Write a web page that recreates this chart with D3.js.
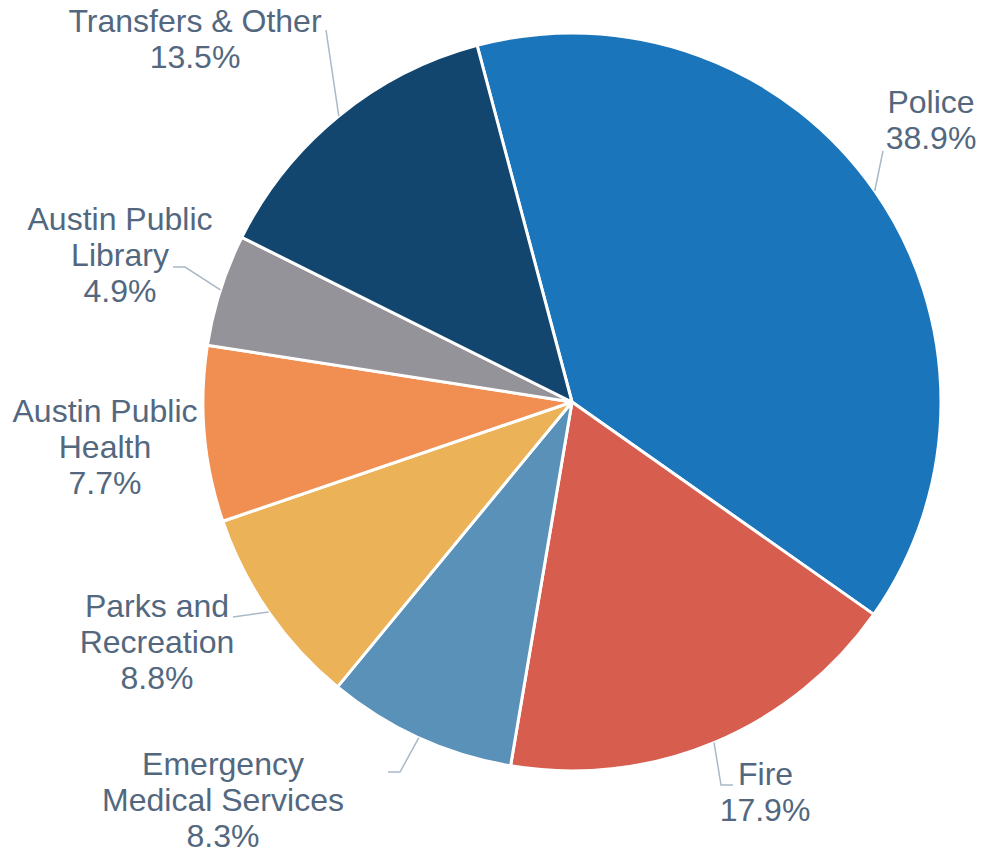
<!DOCTYPE html>
<html>
<head>
<meta charset="utf-8">
<script src="https://cdn.jsdelivr.net/npm/d3@7"></script>
<style>
  html, body { margin: 0; padding: 0; background: #fff; }
  svg { display: block; }
</style>
</head>
<body>
<svg id="chart" width="984" height="853"></svg>
<script>
// Budget shares (%), in drawing order, clockwise
const categories = ['Police', 'Fire', 'Emergency Medical Services', 'Parks and Recreation',
  'Austin Public Health', 'Austin Public Library', 'Transfers & Other'];
const shares = [38.9, 17.9, 8.3, 8.8, 7.7, 4.9, 13.5];
const labelLines = [
  ['Police'], ['Fire'], ['Emergency', 'Medical Services'], ['Parks and', 'Recreation'],
  ['Austin Public', 'Health'], ['Austin Public', 'Library'], ['Transfers & Other']
];

const COLORS = ['#1b75bb', '#d75d4e', '#5a91b8', '#ebb257', '#f18e51', '#939399', '#12466f'];
const TEXT_COLOR = '#53687e';
const LEADER_COLOR = '#a9b9c8';

// Label anchors (text center x, first baseline y) and leader start points
const LABEL_POS = [
  { x: 931, y: 113, leader: [[883, 151]] },
  { x: 765, y: 785, ax: 738, leader: [[733, 785], [721, 785]] },
  { x: 223, y: 775, leader: [[388, 772], [400, 772]] },
  { x: 157, y: 617, leader: [[233, 617]] },
  { x: 105, y: 422, leader: null },
  { x: 120, y: 230, leader: [[173, 267], [185, 267]] },
  { x: 195, y: 32, leader: [[326, 30]] },
];

const cx = 572, cy = 402, radius = 369;
const lineH = 36;

const svg = d3.select('#chart');
const g = svg.append('g').attr('transform', `translate(${cx},${cy})`);

const startA = -14.9 * Math.PI / 180;
const pie = d3.pie().sort(null).value(d => d).startAngle(startA).endAngle(startA + 2 * Math.PI);
const arcs = pie(shares);
const arc = d3.arc().innerRadius(0).outerRadius(radius);

g.selectAll('path.slice')
  .data(arcs)
  .join('path')
  .attr('class', 'slice')
  .attr('d', arc)
  .attr('fill', (d, i) => COLORS[i])
  .attr('stroke', '#fff')
  .attr('stroke-width', 3)
  .attr('stroke-linejoin', 'round');

// Leader lines: from label to outer edge at slice mid-angle
const line = d3.line();
arcs.forEach((a, i) => {
  const pos = LABEL_POS[i];
  if (!pos.leader) return;
  const mid = (a.startAngle + a.endAngle) / 2;
  const edge = [cx + radius * Math.sin(mid), cy - radius * Math.cos(mid)];
  svg.append('path')
    .attr('d', line([...pos.leader, edge]))
    .attr('fill', 'none')
    .attr('stroke', LEADER_COLOR)
    .attr('stroke-width', 1.5);
});

// Labels
arcs.forEach((a, i) => {
  const pos = LABEL_POS[i];
  const lines = [...labelLines[i], shares[i].toFixed(1) + '%'];
  const t = svg.append('text')
    .attr('font-family', "'Liberation Sans', Arial, sans-serif")
    .attr('font-size', '32px')
    .attr('fill', TEXT_COLOR);
  lines.forEach((s, k) => {
    t.append('tspan')
      .attr('x', (k === 0 && pos.ax) ? pos.ax : pos.x)
      .attr('text-anchor', (k === 0 && pos.ax) ? 'start' : 'middle')
      .attr('y', pos.y + k * lineH)
      .text(s);
  });
});
</script>
</body>
</html>
